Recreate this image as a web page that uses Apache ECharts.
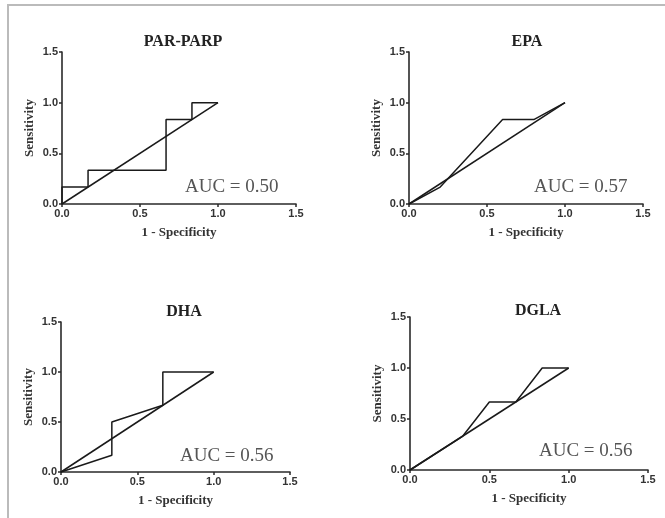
<!DOCTYPE html>
<html><head><meta charset="utf-8">
<script src="https://cdn.jsdelivr.net/npm/echarts@6/dist/echarts.min.js"></script>
<style>html,body{margin:0;padding:0;background:#fff}#c{width:665px;height:518px}</style>
</head><body><div id="c"></div>
<script>
var titles = ['PAR-PARP', 'EPA', 'DHA', 'DGLA'];
var aucLabels = ['AUC = 0.50', 'AUC = 0.57', 'AUC = 0.56', 'AUC = 0.56'];
var axisTicks = [0, 0.5, 1.0, 1.5];
var xName = '1 - Specificity';
var yName = 'Sensitivity';

var rocParParp = [[0,0],[0,0.167],[0.167,0.167],[0.167,0.333],[0.667,0.333],[0.667,0.833],[0.833,0.833],[0.833,1],[1,1]];
var rocEpa = [[0,0],[0.2,0.167],[0.6,0.833],[0.8,0.833],[1,1]];
var rocDha = [[0,0],[0.333,0.167],[0.333,0.5],[0.667,0.667],[0.667,1],[1,1]];
var rocDgla = [[0,0],[0.333,0.333],[0.5,0.667],[0.667,0.667],[0.833,1],[1,1]];
var diagonal = [[0,0],[1,1]];

var rocSets = [rocParParp, rocEpa, rocDha, rocDgla];

var grids = [
  {left: 62, top: 52, width: 234, height: 152},
  {left: 409, top: 52, width: 234, height: 152},
  {left: 61, top: 322, width: 229, height: 150},
  {left: 410, top: 317, width: 238, height: 153}
];
var titlePos = [[183, 42], [527, 42], [184, 312], [538, 311]];
var aucPos = [[185, 187], [534, 187], [180, 456], [539, 451]];

var axisColor = '#2a2a2a';
var lineColor = '#1a1a1a';

var xAxes = [], yAxes = [], series = [], graphics = [];
grids.forEach(function (g, i) {
  xAxes.push({
    type: 'value', gridIndex: i, min: axisTicks[0], max: axisTicks[axisTicks.length - 1], interval: 0.5,
    name: xName, nameLocation: 'middle', nameGap: 22,
    nameTextStyle: {fontFamily: 'Liberation Serif', fontWeight: 'bold', fontSize: 13, color: '#333'},
    axisLine: {show: true, onZero: false, lineStyle: {color: axisColor, width: 1.6}},
    axisTick: {show: true, length: 3, lineStyle: {color: axisColor, width: 1.5}},
    axisLabel: {fontFamily: 'Liberation Sans', fontWeight: 'bold', fontSize: 11, color: '#333', margin: 4,
      formatter: function (v) { return v.toFixed(1); }},
    splitLine: {show: false}
  });
  yAxes.push({
    type: 'value', gridIndex: i, min: axisTicks[0], max: axisTicks[axisTicks.length - 1], interval: 0.5,
    name: yName, nameLocation: 'middle', nameGap: 26,
    nameTextStyle: {fontFamily: 'Liberation Serif', fontWeight: 'bold', fontSize: 13, color: '#333'},
    axisLine: {show: true, onZero: false, lineStyle: {color: axisColor, width: 1.6}},
    axisTick: {show: true, length: 3, lineStyle: {color: axisColor, width: 1.5}},
    axisLabel: {fontFamily: 'Liberation Sans', fontWeight: 'bold', fontSize: 11, color: '#333', margin: 4,
      formatter: function (v) { return v.toFixed(1); }},
    splitLine: {show: false}
  });
  series.push({
    type: 'line', xAxisIndex: i, yAxisIndex: i, data: rocSets[i], symbol: 'none',
    lineStyle: {color: lineColor, width: 1.5}, animation: false, silent: true
  });
  series.push({
    type: 'line', xAxisIndex: i, yAxisIndex: i, data: diagonal, symbol: 'none',
    lineStyle: {color: lineColor, width: 1.5}, animation: false, silent: true
  });
  graphics.push({
    type: 'text', x: titlePos[i][0], y: titlePos[i][1],
    style: {text: titles[i], textAlign: 'center', textVerticalAlign: 'middle',
      font: 'bold 16px "Liberation Serif"', fill: '#222'}
  });
  graphics.push({
    type: 'text', x: aucPos[i][0], y: aucPos[i][1],
    style: {text: aucLabels[i], textAlign: 'left', textVerticalAlign: 'middle',
      font: '19px "Liberation Serif"', fill: '#555'}
  });
});
graphics.push({type: 'line', shape: {x1: 8, y1: 5, x2: 665, y2: 5}, style: {stroke: '#bbb', lineWidth: 2}});
graphics.push({type: 'line', shape: {x1: 8, y1: 4, x2: 8, y2: 518}, style: {stroke: '#bbb', lineWidth: 2}});

var chart = echarts.init(document.getElementById('c'), null, {renderer: 'canvas'});
chart.setOption({
  backgroundColor: '#fff',
  animation: false,
  grid: grids,
  xAxis: xAxes,
  yAxis: yAxes,
  series: series,
  graphic: graphics
});
</script></body></html>
